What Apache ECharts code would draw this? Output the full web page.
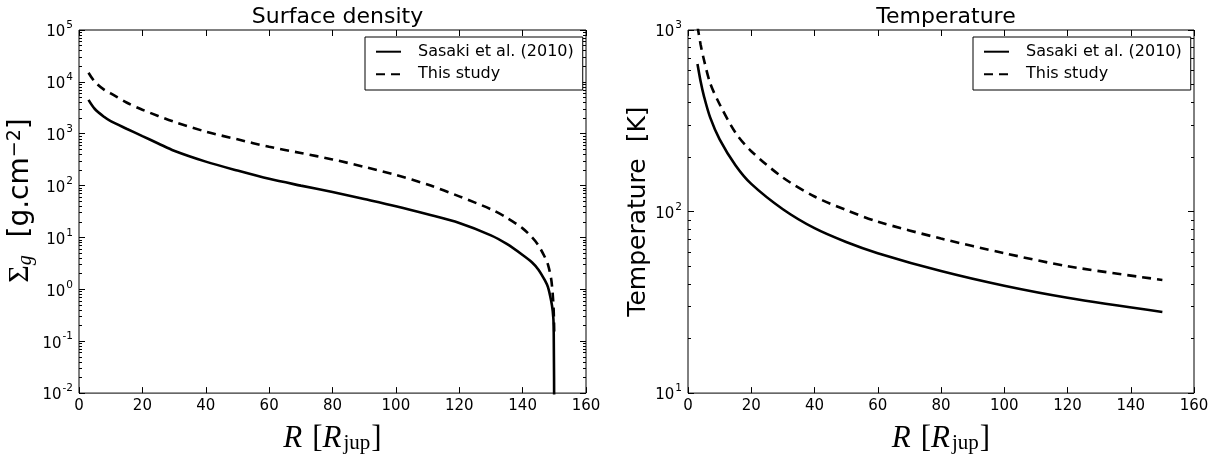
<!DOCTYPE html>
<html>
<head>
<meta charset="utf-8">
<script src="https://cdn.jsdelivr.net/npm/echarts@6/dist/echarts.min.js"></script>
<style>
html,body{margin:0;padding:0;background:#fff;}
#chart{width:1212px;height:459px;}
</style>
</head>
<body>
<div id="chart"></div>
<script>
// ---- Data ----
const seriesNames = ['Sasaki et al. (2010)', 'This study'];

// Surface density [g cm^-2] vs R [R_jup]
const rSigmaSasaki = [3,5,8,10,15,20,25,30,40,50,60,70,80,90,100,110,120,130,135,140,143,145,147,148,149,149.5,149.8,150];
const sigmaSasaki  = [4500,3000,2100,1750,1250,900,650,470,290,195,135,100,75,55,40,28,19,11,7.5,4.6,3.3,2.4,1.5,1.1,0.6,0.38,0.2,0.001];
const rSigmaStudy  = [3,5,8,10,15,20,30,40,50,60,70,80,90,100,110,120,130,135,140,143,145,147,148,149,149.5,149.8,150];
const sigmaStudy   = [15000,10000,7000,6000,4000,2900,1700,1100,780,560,425,320,230,160,105,62,35,24,15,10,7,4.2,3,1.6,0.8,0.4,0.12];

// Temperature [K] vs R [R_jup]
const rTemp      = [3,4,5,7,10,15,20,30,40,50,60,80,100,120,150];
const tempSasaki = [650,520,435,330,250,180,142,103,81,68,59,47,39,33.5,28];
const tempStudy  = [1050,830,690,510,390,272,215,154,121,102,88,71,59,50,42];

// Axis ticks
const sigmaDecades = [-2,-1,0,1,2,3,4,5];
const tempDecades = [1,2,3];

// ---- Helpers ----
const toLog = (xs, ys) => xs.map((x, i) => [x, Math.log10(ys[i])]);
function minorTicks(lo, hi) {
  const out = [];
  for (let d = Math.floor(lo) - 1; d <= Math.ceil(hi); d++) {
    for (let k = 2; k <= 9; k++) {
      const v = d + Math.log10(k);
      if (v > lo + 1e-6 && v < hi - 1e-6) out.push(v);
    }
  }
  return out;
}

const sigMin = -2, sigMax = 5;
const tMin = 1, tMax = 3;

const supRich = {
  b: {fontSize: 15, fontFamily: 'DejaVu Sans', color: '#000', lineHeight: 20, verticalAlign: 'bottom'},
  s: {fontSize: 10.5, fontFamily: 'DejaVu Sans', color: '#000', lineHeight: 20, verticalAlign: 'top', padding: [0,0,0,1]}
};

const GRID_TOP = 30, GRID_H = 372.6;
const frameGrid = (left, width) => ({
  left: left, top: GRID_TOP, width: width, height: GRID_H,
  show: true, borderColor: '#000', borderWidth: 1, backgroundColor: 'transparent'
});

function xAxes(gridIndex) {
  return [
    {
      type: 'value', gridIndex, min: 0, max: 160, interval: 20, position: 'bottom',
      axisLine: {show: false, onZero: false}, splitLine: {show: false},
      axisTick: {show: true, inside: true, length: 6, lineStyle: {color: '#000', width: 1}},
      axisLabel: {show: true, fontSize: 15, fontFamily: 'DejaVu Sans', color: '#000', margin: 6,
        showMinLabel: true, showMaxLabel: true},
      name: '{i|R}{g|}{n|[}{i|R}{sub|jup}{n|]}', nameLocation: 'middle', nameGap: 25,
      nameTextStyle: {
        verticalAlign: 'top',
        rich: {
          i: {fontSize: 31, fontFamily: 'Liberation Serif', fontStyle: 'italic', color: '#000'},
          g: {width: 10},
          n: {fontSize: 31, fontFamily: 'Liberation Serif', color: '#000'},
          sub: {fontSize: 21, fontFamily: 'Liberation Serif', color: '#000', verticalAlign: 'bottom', lineHeight: 14, padding: [14,1,0,2]}
        },
        fontSize: 31, fontFamily: 'Liberation Serif', color: '#000'
      }
    },
    {
      type: 'value', gridIndex, min: 0, max: 160, interval: 20, position: 'top',
      axisLine: {show: false, onZero: false}, splitLine: {show: false},
      axisTick: {show: true, inside: true, length: 6, lineStyle: {color: '#000', width: 1}},
      axisLabel: {show: false}
    }
  ];
}

function yAxes(gridIndex, min, max, majors, labelFmt, name, nameGap, nameStyle) {
  const minors = minorTicks(min, max);
  const base = {type: 'value', gridIndex, min, max, axisLine: {show: false, onZero: false}, splitLine: {show: false}};
  return [
    Object.assign({}, base, {
      position: 'left',
      axisTick: {show: true, inside: true, length: 6, customValues: majors, lineStyle: {color: '#000'}},
      axisLabel: {show: true, customValues: majors, formatter: labelFmt, rich: supRich, margin: 6},
      name, nameLocation: 'middle', nameGap, nameTextStyle: nameStyle
    }),
    Object.assign({}, base, {
      position: 'left',
      axisTick: {show: true, inside: true, length: 3, customValues: minors, lineStyle: {color: '#000'}},
      axisLabel: {show: false}
    }),
    Object.assign({}, base, {
      position: 'right',
      axisTick: {show: true, inside: true, length: 6, customValues: majors, lineStyle: {color: '#000'}},
      axisLabel: {show: false}
    }),
    Object.assign({}, base, {
      position: 'right',
      axisTick: {show: true, inside: true, length: 3, customValues: minors, lineStyle: {color: '#000'}},
      axisLabel: {show: false}
    })
  ];
}

const decFmt = v => '{b|10}{s|' + Math.round(v) + '}';

const solidStyle = {color: '#000', width: 2.6, type: 'solid'};
const dashStyle = {color: '#000', width: 2.6, type: [9, 6]};

function lineSeries(name, data, xi, yi, style) {
  return {
    name, type: 'line', data, xAxisIndex: xi, yAxisIndex: yi,
    showSymbol: false, symbol: 'none', smooth: 0.3, lineStyle: style,
    itemStyle: {color: '#000'}, clip: true, animation: false
  };
}

const legendCommon = {
  orient: 'vertical', itemWidth: 25, itemHeight: 16, itemGap: 6.6,
  backgroundColor: '#fff', borderColor: '#000', borderWidth: 1, borderRadius: 0,
  padding: [6.7, 9, 7.7, 10],
  itemStyle: {opacity: 0},
  textStyle: {fontSize: 16, lineHeight: 16, fontFamily: 'DejaVu Sans', color: '#000', padding: [0,0,0,12]},
  data: seriesNames
};

const option = {
  animation: false,
  backgroundColor: '#fff',
  title: [
    {text: 'Surface density', left: 332.5, top: 1, textAlign: 'center',
      textStyle: {fontSize: 22, fontWeight: 'normal', fontFamily: 'DejaVu Sans', color: '#000'}},
    {text: 'Temperature', left: 941, top: 1, textAlign: 'center',
      textStyle: {fontSize: 22, fontWeight: 'normal', fontFamily: 'DejaVu Sans', color: '#000'}}
  ],
  legend: [
    Object.assign({}, legendCommon, {left: 365, top: 37}),
    Object.assign({}, legendCommon, {left: 973, top: 37})
  ],
  grid: [frameGrid(79, 507), frameGrid(688, 506)],
  xAxis: xAxes(0).concat(xAxes(1)),
  yAxis: yAxes(0, sigMin, sigMax, sigmaDecades, decFmt,
      '{m|Σ}{sub|g}{n|  [g.cm}{sup|−2}{n|]}', 42,
      {padding: [0, 0, 0, 22], rich: {
        m: {fontSize: 30, fontFamily: 'Liberation Serif', color: '#000'},
        sub: {fontSize: 20, fontFamily: 'Liberation Serif', fontStyle: 'italic', color: '#000', verticalAlign: 'bottom', lineHeight: 14, padding: [13,0,0,0]},
        n: {fontSize: 28, fontFamily: 'DejaVu Sans', color: '#000'},
        sup: {fontSize: 19, fontFamily: 'DejaVu Sans', color: '#000', verticalAlign: 'top', lineHeight: 14, padding: [0,0,14,0]}
      }})
    .concat(yAxes(1, tMin, tMax, tempDecades, decFmt,
      'Temperature  [K]', 37,
      {fontSize: 25, fontFamily: 'DejaVu Sans', color: '#000'})),
  series: [
    lineSeries(seriesNames[0], toLog(rSigmaSasaki, sigmaSasaki), 0, 0, solidStyle),
    lineSeries(seriesNames[1], toLog(rSigmaStudy, sigmaStudy), 0, 0, dashStyle),
    lineSeries(seriesNames[0], toLog(rTemp, tempSasaki), 2, 4, solidStyle),
    lineSeries(seriesNames[1], toLog(rTemp, tempStudy), 2, 4, dashStyle)
  ]
};

const chart = echarts.init(document.getElementById('chart'), null, {renderer: 'canvas'});
chart.setOption(option);
</script>
</body>
</html>
